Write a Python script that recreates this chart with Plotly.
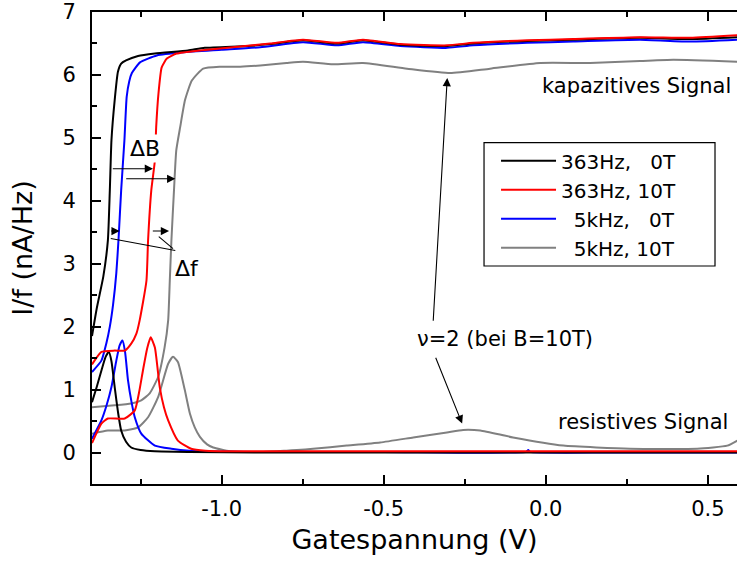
import plotly.graph_objects as go

# ---------------- data ----------------
# 363 Hz, 0 T  (black)
blk_cap_v = [-1.40, -1.385, -1.365, -1.351, -1.345, -1.340, -1.330, -1.320, -1.310, -1.295,
             -1.258, -1.206, -1.104, -1.052, -0.919, -0.85, -0.749, -0.644, -0.564, -0.449,
             -0.304, -0.224, -0.057, 0.085, 0.291, 0.446, 0.591]
blk_cap_i = [1.85, 2.30, 2.80, 3.37, 4.17, 4.96, 5.60, 6.05, 6.18, 6.23,
             6.30, 6.34, 6.39, 6.43, 6.46, 6.49, 6.55, 6.50, 6.55, 6.48,
             6.46, 6.50, 6.54, 6.56, 6.59, 6.57, 6.60]
blk_res_v = [-1.40, -1.385, -1.37, -1.358, -1.348, -1.34, -1.33, -1.32, -1.31, -1.295,
             -1.279, -1.25, -1.206, -1.10, -0.90, -0.50, 0.0, 0.591]
blk_res_i = [0.80, 1.05, 1.32, 1.52, 1.60, 1.45, 1.04, 0.65, 0.35, 0.17,
             0.08, 0.04, 0.02, 0.01, 0.0, 0.0, 0.0, 0.0]

# 363 Hz, 10 T (red)
red_cap_v = [-1.40, -1.371, -1.33, -1.299, -1.279, -1.263, -1.253, -1.232, -1.227, -1.217,
             -1.206, -1.202, -1.195, -1.185, -1.169, -1.139, -1.067, -0.943, -0.85, -0.749,
             -0.644, -0.564, -0.449, -0.304, -0.224, -0.057, 0.085, 0.291, 0.446, 0.591]
red_cap_i = [1.40, 1.60, 1.62, 1.62, 1.73, 1.89, 2.10, 2.73, 3.37, 4.17,
             4.64, 5.17, 5.70, 6.12, 6.26, 6.34, 6.39, 6.45, 6.50, 6.56,
             6.51, 6.56, 6.49, 6.47, 6.51, 6.55, 6.57, 6.60, 6.59, 6.63]
red_res_v = [-1.40, -1.371, -1.351, -1.299, -1.268, -1.255, -1.243, -1.23, -1.219, -1.206,
             -1.191, -1.178, -1.165, -1.135, -1.094, -1.05, -0.95, -0.5, 0.0, 0.591]
red_res_i = [0.15, 0.46, 0.54, 0.54, 0.67, 0.95, 1.30, 1.65, 1.83, 1.67,
             1.04, 0.72, 0.51, 0.19, 0.06, 0.03, 0.02, 0.02, 0.02, 0.02]

# 5 kHz, 0 T (blue)
blu_cap_v = [-1.40, -1.371, -1.356, -1.345, -1.335, -1.325, -1.318, -1.31, -1.30, -1.293,
             -1.285, -1.277, -1.252, -1.20, -1.119, -1.0, -0.881, -0.749, -0.644, -0.564,
             -0.449, -0.304, -0.224, -0.057, 0.085, 0.291, 0.446, 0.591]
blu_cap_i = [1.28, 1.46, 1.73, 2.00, 2.35, 2.85, 3.40, 4.17, 4.96, 5.65,
             5.90, 6.03, 6.20, 6.31, 6.36, 6.40, 6.44, 6.52, 6.47, 6.52,
             6.46, 6.43, 6.47, 6.51, 6.53, 6.56, 6.53, 6.56]
blu_res_v = [-1.40, -1.371, -1.355, -1.34, -1.325, -1.315, -1.306, -1.298, -1.289, -1.278,
             -1.268, -1.248, -1.206, -1.155, -1.10, -0.90, -0.50, -0.06, -0.054, -0.048,
             0.2, 0.591]
blu_res_i = [0.22, 0.51, 0.75, 1.04, 1.46, 1.70, 1.78, 1.60, 1.15, 0.80,
             0.56, 0.30, 0.11, 0.06, 0.03, 0.01, 0.01, 0.01, 0.04, 0.01,
             0.0, 0.0]

# 5 kHz, 10 T (gray)
gry_cap_v = [-1.40, -1.33, -1.279, -1.248, -1.222, -1.196, -1.176, -1.165, -1.16, -1.155,
             -1.147, -1.14, -1.128, -1.113, -1.092, -1.057, -1.005, -0.943, -0.881, -0.80,
             -0.749, -0.656, -0.564, -0.428, -0.295, -0.172, -0.017, 0.137, 0.291, 0.393,
             0.591]
gry_cap_i = [0.72, 0.75, 0.78, 0.83, 0.94, 1.20, 1.67, 2.10, 2.73, 3.37,
             4.17, 4.80, 5.17, 5.60, 5.91, 6.10, 6.13, 6.13, 6.15, 6.19,
             6.21, 6.17, 6.19, 6.10, 6.03, 6.10, 6.19, 6.19, 6.22, 6.24,
             6.21]
gry_res_v = [-1.40, -1.351, -1.299, -1.258, -1.227, -1.196, -1.165, -1.15, -1.135, -1.114,
             -1.098, -1.083, -1.067, -1.045, -1.026, -0.974, -0.872, -0.80, -0.768, -0.718,
             -0.614, -0.511, -0.409, -0.305, -0.255, -0.202, -0.101, 0.054, 0.26, 0.467,
             0.56, 0.591]
gry_res_i = [0.30, 0.35, 0.35, 0.40, 0.56, 0.88, 1.41, 1.52, 1.44, 1.00,
             0.62, 0.40, 0.25, 0.13, 0.08, 0.02, 0.01, 0.03, 0.04, 0.06,
             0.11, 0.16, 0.24, 0.32, 0.36, 0.35, 0.24, 0.11, 0.06, 0.06,
             0.11, 0.19]

x_tickvals = [-1.0, -0.5, 0.0, 0.5]
x_ticktext = ["-1.0", "-0.5", "0.0", "0.5"]

series = [
    # name, color, cap_v, cap_i, res_v, res_i, legend rank
    ("\u20075kHz, 10T", "#808080", gry_cap_v, gry_cap_i, gry_res_v, gry_res_i, 4),
    ("\u20075kHz, \u20070T", "#0000ff", blu_cap_v, blu_cap_i, blu_res_v, blu_res_i, 3),
    ("363Hz, \u20070T", "#000000", blk_cap_v, blk_cap_i, blk_res_v, blk_res_i, 1),
    ("363Hz, 10T", "#ff0000", red_cap_v, red_cap_i, red_res_v, red_res_i, 2),
]

FONT = "DejaVu Sans"

fig = go.Figure()
for name, color, cv, ci, rv, ri, rank in series:
    fig.add_trace(go.Scatter(x=cv, y=ci, mode="lines", name=name, legendgroup=name,
                             legendrank=rank,
                             line=dict(color=color, width=2, shape="spline", smoothing=0.5)))
    fig.add_trace(go.Scatter(x=rv, y=ri, mode="lines", name=name, legendgroup=name,
                             showlegend=False,
                             line=dict(color=color, width=2, shape="spline", smoothing=0.5)))

# ---------------- annotations ----------------
def arrow(x_head, y_head, x_tail, y_tail):
    return dict(x=x_head, y=y_head, ax=x_tail, ay=y_tail, xref="x", yref="y",
                axref="x", ayref="y", text="", showarrow=True, arrowhead=2,
                arrowsize=1.5, arrowwidth=1.1, arrowcolor="black", standoff=0)

annotations = [
    arrow(-1.2117, 4.51, -1.3404, 4.51),
    arrow(-1.1429, 4.35, -1.2991, 4.35),
    arrow(-1.3145, 3.52, -1.3454, 3.52),
    arrow(-1.1623, 3.52, -1.2170, 3.52),
    arrow(-0.304, 5.95, -0.3475, 2.07),
    arrow(-0.258, 0.46, -0.3414, 1.53),
    dict(x=-1.2364, y=4.83, text="\u0394B", showarrow=False, bgcolor="white",
         font=dict(family=FONT, size=22, color="black")),
    dict(x=-1.1068, y=2.93, text="\u0394f", showarrow=False,
         font=dict(family=FONT, size=22, color="black")),
    dict(x=-0.1253, y=1.80, text="\u03bd=2 (bei B=10T)", showarrow=False,
         font=dict(family=FONT, size=21, color="black")),
    dict(x=0.578, y=5.83, text="kapazitives Signal", showarrow=False, xanchor="right",
         font=dict(family=FONT, size=21, color="black")),
    dict(x=0.569, y=0.49, text="resistives Signal", showarrow=False, xanchor="right",
         font=dict(family=FONT, size=21, color="black")),
]

shapes = [
    dict(type="line", xref="x", yref="y", x0=-1.342, y0=3.40, x1=-1.143, y1=3.21,
         line=dict(color="black", width=1.1)),
    dict(type="line", xref="x", yref="y", x0=-1.194, y0=3.43, x1=-1.150, y1=3.24,
         line=dict(color="black", width=1.1)),
    # legend frame
    dict(type="rect", xref="paper", yref="paper", x0=0.6078, x1=0.9659, y0=0.4619, y1=0.7231,
         line=dict(color="black", width=1.2), fillcolor="white", layer="below"),
]

fig.update_layout(
    width=737, height=567,
    margin=dict(l=92, r=0, t=12, b=83, autoexpand=False),
    paper_bgcolor="white", plot_bgcolor="white",
    font=dict(family=FONT, size=21, color="black"),
    annotations=annotations, shapes=shapes,
    legend=dict(x=0.6264, y=0.726, xanchor="left", yanchor="top",
                bgcolor="rgba(0,0,0,0)", borderwidth=0,
                font=dict(family=FONT, size=20, color="black"),
                itemwidth=55, tracegroupgap=0),
    xaxis=dict(range=[-1.4, 0.59], tickmode="array", tickvals=x_tickvals, ticktext=x_ticktext,
               showgrid=False, zeroline=False, showline=True, linecolor="black",
               linewidth=2, mirror="ticks", ticks="inside", ticklen=9, tickwidth=1.5,
               tickcolor="black", ticklabelstandoff=5, ticklabeloverflow="allow",
               automargin=False,
               minor=dict(tickmode="linear", tick0=0, dtick=0.25, ticks="inside", ticklen=5,
                          tickwidth=1.5, tickcolor="black"),
               tickfont=dict(family=FONT, size=21),
               title=dict(text="Gatespannung (V)", font=dict(family=FONT, size=27), standoff=10)),
    yaxis=dict(range=[-0.5, 7], tick0=0, dtick=1,
               showgrid=False, zeroline=False, showline=True, linecolor="black",
               linewidth=2, ticks="inside", ticklen=9, tickwidth=1.5, tickcolor="black",
               ticklabelstandoff=10, ticklabeloverflow="allow", automargin=False,
               minor=dict(dtick=0.5, ticks="inside", ticklen=5, tickwidth=1.5, tickcolor="black"),
               tickfont=dict(family=FONT, size=21),
               title=dict(text="I/f (nA/Hz)", font=dict(family=FONT, size=27), standoff=22)),
)

# remove the browser's default 8 px page margin so the figure fills the window
fig.write_html("out.html", config={"displayModeBar": False},
               post_script="document.body.style.margin='0px';")
